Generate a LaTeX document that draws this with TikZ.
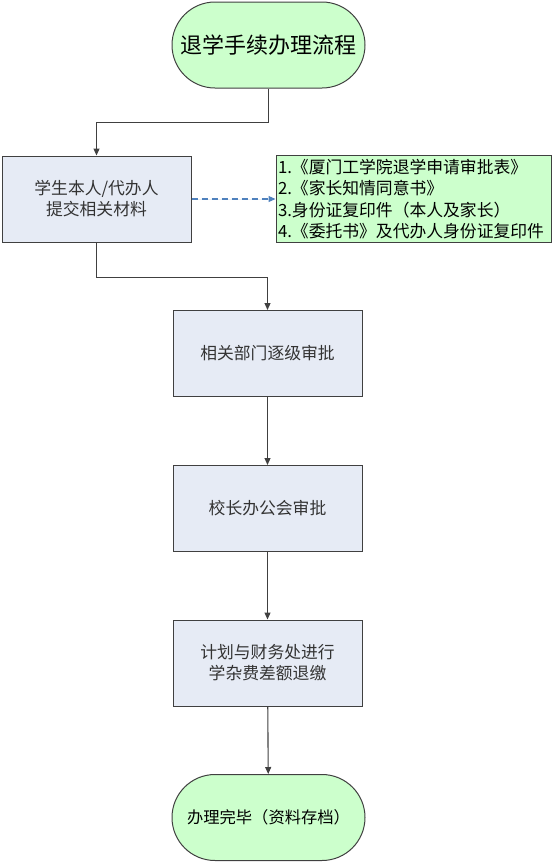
\documentclass[tikz,border=0pt]{standalone}
\usepackage{fontspec}
\newfontfamily\cjk{Noto Sans CJK SC}
\usetikzlibrary{arrows.meta}
\definecolor{termfill}{HTML}{CCFFCC}
\definecolor{stepfill}{HTML}{E6EBF5}
\definecolor{linegray}{HTML}{404040}
\definecolor{dashblue}{HTML}{4F81BD}
\begin{document}
\begin{tikzpicture}[x=1pt,y=-1pt,
  term/.style={draw=linegray,line width=1pt,fill=termfill,rounded corners=43pt,
    minimum width=193pt,minimum height=86pt,font=\cjk},
  stepbox/.style={draw=linegray,line width=1pt,fill=stepfill,
    minimum width=189pt,minimum height=86pt,align=center,
    text=black!80,font=\cjk\fontsize{16.8}{21}\selectfont},
  arr/.style={draw=linegray,line width=1.1pt,-{Triangle[length=7pt,width=6pt]}}]
\useasboundingbox (0,0) rectangle (554,863);

\node[term,font=\cjk\fontsize{22}{26}\selectfont] (start) at (268.5,45) {退学手续办理流程};
\node[stepbox] (submit) at (96.5,199) {学生本人/代办人\\提交相关材料};
\node[draw=linegray,line width=1pt,fill=termfill,minimum height=86pt,
  text width=271pt,inner xsep=2pt,align=left,font=\cjk\fontsize{16.8}{21.5}\selectfont] (docs) at (413.5,199)
  {1.《厦门工学院退学申请审批表》\\2.《家长知情同意书》\\3.身份证复印件（本人及家长）\\4.《委托书》及代办人身份证复印件};
\node[stepbox] (dept) at (267.5,353.5) {相关部门逐级审批};
\node[stepbox] (office) at (267.5,508.5) {校长办公会审批};
\node[stepbox] (finance) at (267.5,663) {计划与财务处进行\\学杂费差额退缴};
\node[term,font=\cjk\fontsize{16.3}{20}\selectfont] (done) at (268.5,817.5) {办理完毕（资料存档）};

\draw[arr] (start.south) -- ++(0,34) -| (submit.north);
\draw[arr,draw=dashblue,fill=dashblue,dashed,dash pattern=on 6pt off 4pt] (submit.east) -- (docs.west);
\draw[arr] (submit.south) -- ++(0,35) -| (dept.north);
\draw[arr] (dept) -- (office);
\draw[arr] (office) -- (finance);
\draw[arr] (finance) -- (done);
\end{tikzpicture}
\end{document}
